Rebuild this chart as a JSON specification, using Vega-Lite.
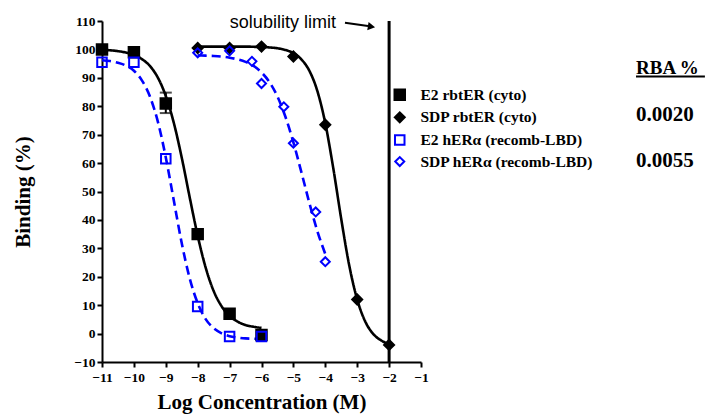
{
  "$schema": "https://vega.github.io/schema/vega-lite/v6.json",
  "width": 319,
  "height": 341,
  "autosize": "none",
  "padding": {"left": 102, "top": 21, "right": 285, "bottom": 56},
  "background": "white",
  "config": {
    "view": {"stroke": null},
    "font": "Liberation Serif",
    "axis": {
      "grid": false,
      "labelFlush": false,
      "labelOverlap": false,
      "domainColor": "black",
      "domainWidth": 2,
      "tickColor": "black",
      "tickWidth": 2,
      "tickSize": 5,
      "labelFont": "Liberation Serif",
      "labelFontWeight": "bold",
      "labelFontSize": 13.5,
      "labelColor": "black",
      "titleFont": "Liberation Serif",
      "titleFontWeight": "bold",
      "titleFontSize": 21,
      "titleColor": "black"
    },
    "legend": {
      "padding": 0,
      "labelFont": "Liberation Serif",
      "labelFontWeight": "bold",
      "labelFontSize": 15.5,
      "labelColor": "black",
      "labelLimit": 0,
      "symbolStrokeWidth": 2
    }
  },
  "datasets": {
    "points": [
      {"series": "E2 rbtER (cyto)", "x": -11, "y": 100},
      {"series": "E2 rbtER (cyto)", "x": -10, "y": 99},
      {"series": "E2 rbtER (cyto)", "x": -9, "y": 81},
      {"series": "E2 rbtER (cyto)", "x": -8, "y": 35},
      {"series": "E2 rbtER (cyto)", "x": -7, "y": 7},
      {"series": "E2 rbtER (cyto)", "x": -6, "y": -0.5},
      {"series": "SDP rbtER (cyto)", "x": -8, "y": 100.5},
      {"series": "SDP rbtER (cyto)", "x": -7, "y": 100.5},
      {"series": "SDP rbtER (cyto)", "x": -6, "y": 101},
      {"series": "SDP rbtER (cyto)", "x": -5, "y": 97.5},
      {"series": "SDP rbtER (cyto)", "x": -4, "y": 73.5},
      {"series": "SDP rbtER (cyto)", "x": -3, "y": 12},
      {"series": "SDP rbtER (cyto)", "x": -2, "y": -4},
      {"series": "E2 hERα (recomb-LBD)", "x": -11, "y": 95.5},
      {"series": "E2 hERα (recomb-LBD)", "x": -10, "y": 95.5},
      {"series": "E2 hERα (recomb-LBD)", "x": -9, "y": 61.5},
      {"series": "E2 hERα (recomb-LBD)", "x": -8, "y": 9.5},
      {"series": "E2 hERα (recomb-LBD)", "x": -7, "y": -1},
      {"series": "E2 hERα (recomb-LBD)", "x": -6, "y": -1},
      {"series": "SDP hERα (recomb-LBD)", "x": -8, "y": 98.8},
      {"series": "SDP hERα (recomb-LBD)", "x": -7, "y": 99.5},
      {"series": "SDP hERα (recomb-LBD)", "x": -6.3, "y": 95.8},
      {"series": "SDP hERα (recomb-LBD)", "x": -6, "y": 88},
      {"series": "SDP hERα (recomb-LBD)", "x": -5.3, "y": 79.8},
      {"series": "SDP hERα (recomb-LBD)", "x": -5, "y": 67},
      {"series": "SDP hERα (recomb-LBD)", "x": -4.3, "y": 42.8},
      {"series": "SDP hERα (recomb-LBD)", "x": -4, "y": 25.3}
    ],
    "curves": [
      {"curve": "E2 rbtER", "x": -11, "y": 99.8},
      {"curve": "E2 rbtER", "x": -10.75, "y": 99.7},
      {"curve": "E2 rbtER", "x": -10.5, "y": 99.4},
      {"curve": "E2 rbtER", "x": -10.25, "y": 98.9},
      {"curve": "E2 rbtER", "x": -10, "y": 98.1},
      {"curve": "E2 rbtER", "x": -9.75, "y": 96.6},
      {"curve": "E2 rbtER", "x": -9.5, "y": 94.2},
      {"curve": "E2 rbtER", "x": -9.25, "y": 90.1},
      {"curve": "E2 rbtER", "x": -9, "y": 83.6},
      {"curve": "E2 rbtER", "x": -8.75, "y": 74.2},
      {"curve": "E2 rbtER", "x": -8.5, "y": 61.9},
      {"curve": "E2 rbtER", "x": -8.25, "y": 47.9},
      {"curve": "E2 rbtER", "x": -8, "y": 34.4},
      {"curve": "E2 rbtER", "x": -7.75, "y": 23.2},
      {"curve": "E2 rbtER", "x": -7.5, "y": 15.0},
      {"curve": "E2 rbtER", "x": -7.25, "y": 9.6},
      {"curve": "E2 rbtER", "x": -7, "y": 6.2},
      {"curve": "E2 rbtER", "x": -6.75, "y": 4.2},
      {"curve": "E2 rbtER", "x": -6.5, "y": 3.0},
      {"curve": "E2 rbtER", "x": -6.25, "y": 2.4},
      {"curve": "E2 rbtER", "x": -6, "y": 2.0},
      {"curve": "SDP rbtER", "x": -8, "y": 101.0},
      {"curve": "SDP rbtER", "x": -7.5, "y": 101.0},
      {"curve": "SDP rbtER", "x": -7, "y": 101.0},
      {"curve": "SDP rbtER", "x": -6.5, "y": 101.0},
      {"curve": "SDP rbtER", "x": -6, "y": 100.8},
      {"curve": "SDP rbtER", "x": -5.75, "y": 100.7},
      {"curve": "SDP rbtER", "x": -5.5, "y": 100.4},
      {"curve": "SDP rbtER", "x": -5.25, "y": 99.8},
      {"curve": "SDP rbtER", "x": -5, "y": 98.7},
      {"curve": "SDP rbtER", "x": -4.75, "y": 96.5},
      {"curve": "SDP rbtER", "x": -4.5, "y": 92.5},
      {"curve": "SDP rbtER", "x": -4.25, "y": 85.4},
      {"curve": "SDP rbtER", "x": -4, "y": 74.0},
      {"curve": "SDP rbtER", "x": -3.75, "y": 58.2},
      {"curve": "SDP rbtER", "x": -3.5, "y": 40.3},
      {"curve": "SDP rbtER", "x": -3.25, "y": 24.0},
      {"curve": "SDP rbtER", "x": -3, "y": 12.0},
      {"curve": "SDP rbtER", "x": -2.75, "y": 4.3},
      {"curve": "SDP rbtER", "x": -2.5, "y": -0.1},
      {"curve": "SDP rbtER", "x": -2.25, "y": -2.4},
      {"curve": "SDP rbtER", "x": -2, "y": -3.7},
      {"curve": "E2 hERα", "x": -11, "y": 96.2},
      {"curve": "E2 hERα", "x": -10.75, "y": 95.9},
      {"curve": "E2 hERα", "x": -10.5, "y": 95.3},
      {"curve": "E2 hERα", "x": -10.25, "y": 94.3},
      {"curve": "E2 hERα", "x": -10, "y": 92.5},
      {"curve": "E2 hERα", "x": -9.75, "y": 89.1},
      {"curve": "E2 hERα", "x": -9.5, "y": 83.5},
      {"curve": "E2 hERα", "x": -9.25, "y": 74.6},
      {"curve": "E2 hERα", "x": -9, "y": 62.0},
      {"curve": "E2 hERα", "x": -8.75, "y": 46.9},
      {"curve": "E2 hERα", "x": -8.5, "y": 31.8},
      {"curve": "E2 hERα", "x": -8.25, "y": 19.4},
      {"curve": "E2 hERα", "x": -8, "y": 10.7},
      {"curve": "E2 hERα", "x": -7.75, "y": 5.1},
      {"curve": "E2 hERα", "x": -7.5, "y": 1.9},
      {"curve": "E2 hERα", "x": -7.25, "y": 0.1},
      {"curve": "E2 hERα", "x": -7, "y": -0.9},
      {"curve": "E2 hERα", "x": -6.75, "y": -1.4},
      {"curve": "E2 hERα", "x": -6.5, "y": -1.7},
      {"curve": "E2 hERα", "x": -6.25, "y": -1.8},
      {"curve": "E2 hERα", "x": -6, "y": -1.9},
      {"curve": "SDP hERα", "x": -8, "y": 97.9},
      {"curve": "SDP hERα", "x": -7.75, "y": 97.8},
      {"curve": "SDP hERα", "x": -7.5, "y": 97.7},
      {"curve": "SDP hERα", "x": -7.25, "y": 97.5},
      {"curve": "SDP hERα", "x": -7, "y": 97.1},
      {"curve": "SDP hERα", "x": -6.75, "y": 96.5},
      {"curve": "SDP hERα", "x": -6.5, "y": 95.6},
      {"curve": "SDP hERα", "x": -6.25, "y": 94.2},
      {"curve": "SDP hERα", "x": -6, "y": 91.9},
      {"curve": "SDP hERα", "x": -5.75, "y": 88.5},
      {"curve": "SDP hERα", "x": -5.5, "y": 83.4},
      {"curve": "SDP hERα", "x": -5.25, "y": 76.3},
      {"curve": "SDP hERα", "x": -5, "y": 67.3},
      {"curve": "SDP hERα", "x": -4.75, "y": 56.8},
      {"curve": "SDP hERα", "x": -4.5, "y": 46.0},
      {"curve": "SDP hERα", "x": -4.25, "y": 36.1},
      {"curve": "SDP hERα", "x": -4, "y": 28.0}
    ],
    "errs": [{"x": -9, "lo": 77.6, "hi": 84.8}],
    "limit": [{"x": -2}],
    "arrow": [{"x": -3.383, "y": 109.4, "x2": -2.66, "y2": 108.24}],
    "arrowhead": [{"x": -2.552, "y": 108.03}],
    "sol": [{"text": "solubility limit", "x": -5.33, "y": 109.3}],
    "rba": [{"text": "RBA %", "x": 5.74, "y": 93.46}],
    "rbavals": [
      {"text": "0.0020", "x": 5.74, "y": 76.9},
      {"text": "0.0055", "x": 5.74, "y": 60.7}
    ],
    "underline": [{"x": 5.74, "x2": 7.9, "y": 90.47}]
  },
  "layer": [
    {
      "data": {"name": "limit"},
      "mark": {"type": "rule", "strokeWidth": 3, "color": "black"},
      "encoding": {
        "x": {"field": "x", "type": "quantitative", "title": "Log Concentration (M)",
          "scale": {"domain": [-11, -1], "nice": false, "zero": false},
          "axis": {"values": [-11, -10, -9, -8, -7, -6, -5, -4, -3, -2, -1], "labelPadding": 3, "titlePadding": 8}}
      }
    },
    {
      "data": {"name": "curves"},
      "mark": {"type": "line", "strokeWidth": 2.6, "interpolate": "monotone"},
      "encoding": {
        "x": {"field": "x", "type": "quantitative", "title": "Log Concentration (M)",
          "scale": {"domain": [-11, -1], "nice": false, "zero": false},
          "axis": {"values": [-11, -10, -9, -8, -7, -6, -5, -4, -3, -2, -1], "labelPadding": 3, "titlePadding": 8}},
        "y": {"field": "y", "type": "quantitative", "title": "Binding (%)",
          "scale": {"domain": [-10, 110], "nice": false, "zero": false},
          "axis": {"values": [-10, 0, 10, 20, 30, 40, 50, 60, 70, 80, 90, 100, 110], "labelPadding": 2, "titlePadding": 40}},
        "detail": {"field": "curve"},
        "color": {"field": "curve", "type": "nominal", "legend": null,
          "scale": {"domain": ["E2 rbtER", "SDP rbtER", "E2 hERα", "SDP hERα"], "range": ["#000000", "#000000", "#0000ff", "#0000ff"]}},
        "strokeDash": {"field": "curve", "type": "nominal", "legend": null,
          "scale": {"domain": ["E2 rbtER", "SDP rbtER", "E2 hERα", "SDP hERα"], "range": [[1, 0], [1, 0], [9, 5], [9, 5]]}}
      }
    },
    {
      "data": {"name": "errs"},
      "mark": {"type": "errorbar", "ticks": {"size": 12, "thickness": 2, "color": "black"}, "thickness": 2, "color": "black"},
      "encoding": {
        "x": {"field": "x", "type": "quantitative", "title": "Log Concentration (M)",
          "scale": {"domain": [-11, -1], "nice": false, "zero": false},
          "axis": {"values": [-11, -10, -9, -8, -7, -6, -5, -4, -3, -2, -1], "labelPadding": 3, "titlePadding": 8}},
        "y": {"field": "lo", "type": "quantitative", "title": "Binding (%)",
          "scale": {"domain": [-10, 110], "nice": false, "zero": false},
          "axis": {"values": [-10, 0, 10, 20, 30, 40, 50, 60, 70, 80, 90, 100, 110], "labelPadding": 2, "titlePadding": 40}},
        "y2": {"field": "hi"}
      }
    },
    {
      "data": {"name": "points"},
      "mark": {"type": "point", "strokeWidth": 2, "opacity": 1, "fillOpacity": 1},
      "encoding": {
        "x": {"field": "x", "type": "quantitative", "title": "Log Concentration (M)",
          "scale": {"domain": [-11, -1], "nice": false, "zero": false},
          "axis": {"values": [-11, -10, -9, -8, -7, -6, -5, -4, -3, -2, -1], "labelPadding": 3, "titlePadding": 8}},
        "y": {"field": "y", "type": "quantitative", "title": "Binding (%)",
          "scale": {"domain": [-10, 110], "nice": false, "zero": false},
          "axis": {"values": [-10, 0, 10, 20, 30, 40, 50, 60, 70, 80, 90, 100, 110], "labelPadding": 2, "titlePadding": 40}},
        "shape": {"field": "series", "type": "nominal",
          "scale": {"domain": ["E2 rbtER (cyto)", "SDP rbtER (cyto)", "E2 hERα (recomb-LBD)", "SDP hERα (recomb-LBD)"], "range": ["square", "diamond", "square", "diamond"]},
          "legend": {"orient": "none", "legendX": 290, "legendY": 66, "title": null, "rowPadding": 3.6, "labelOffset": 13}},
        "fill": {"field": "series", "type": "nominal",
          "scale": {"domain": ["E2 rbtER (cyto)", "SDP rbtER (cyto)", "E2 hERα (recomb-LBD)", "SDP hERα (recomb-LBD)"], "range": ["#000000", "#000000", "transparent", "transparent"]},
          "legend": {"orient": "none", "legendX": 290, "legendY": 66, "title": null, "rowPadding": 3.6, "labelOffset": 13}},
        "stroke": {"field": "series", "type": "nominal",
          "scale": {"domain": ["E2 rbtER (cyto)", "SDP rbtER (cyto)", "E2 hERα (recomb-LBD)", "SDP hERα (recomb-LBD)"], "range": ["#000000", "#000000", "#0000ff", "#0000ff"]},
          "legend": {"orient": "none", "legendX": 290, "legendY": 66, "title": null, "rowPadding": 3.6, "labelOffset": 13}},
        "size": {"field": "series", "type": "nominal",
          "scale": {"domain": ["E2 rbtER (cyto)", "SDP rbtER (cyto)", "E2 hERα (recomb-LBD)", "SDP hERα (recomb-LBD)"], "range": [110, 81, 110, 81]},
          "legend": {"orient": "none", "legendX": 290, "legendY": 66, "title": null, "rowPadding": 3.6, "labelOffset": 13}}
      }
    },
    {
      "data": {"name": "arrow"},
      "mark": {"type": "rule", "strokeWidth": 2, "color": "black"},
      "encoding": {
        "x": {"field": "x", "type": "quantitative", "title": "Log Concentration (M)",
          "scale": {"domain": [-11, -1], "nice": false, "zero": false},
          "axis": {"values": [-11, -10, -9, -8, -7, -6, -5, -4, -3, -2, -1], "labelPadding": 3, "titlePadding": 8}},
        "y": {"field": "y", "type": "quantitative", "title": "Binding (%)",
          "scale": {"domain": [-10, 110], "nice": false, "zero": false},
          "axis": {"values": [-10, 0, 10, 20, 30, 40, 50, 60, 70, 80, 90, 100, 110], "labelPadding": 2, "titlePadding": 40}},
        "x2": {"field": "x2"},
        "y2": {"field": "y2"}
      }
    },
    {
      "data": {"name": "arrowhead"},
      "mark": {"type": "point", "shape": "triangle-right", "filled": true, "color": "black", "opacity": 1, "size": 70, "angle": 9},
      "encoding": {
        "x": {"field": "x", "type": "quantitative", "title": "Log Concentration (M)",
          "scale": {"domain": [-11, -1], "nice": false, "zero": false},
          "axis": {"values": [-11, -10, -9, -8, -7, -6, -5, -4, -3, -2, -1], "labelPadding": 3, "titlePadding": 8}},
        "y": {"field": "y", "type": "quantitative", "title": "Binding (%)",
          "scale": {"domain": [-10, 110], "nice": false, "zero": false},
          "axis": {"values": [-10, 0, 10, 20, 30, 40, 50, 60, 70, 80, 90, 100, 110], "labelPadding": 2, "titlePadding": 40}}
      }
    },
    {
      "data": {"name": "sol"},
      "mark": {"type": "text", "font": "Liberation Sans", "fontSize": 18, "align": "center", "baseline": "middle", "color": "black"},
      "encoding": {
        "x": {"field": "x", "type": "quantitative", "title": "Log Concentration (M)",
          "scale": {"domain": [-11, -1], "nice": false, "zero": false},
          "axis": {"values": [-11, -10, -9, -8, -7, -6, -5, -4, -3, -2, -1], "labelPadding": 3, "titlePadding": 8}},
        "y": {"field": "y", "type": "quantitative", "title": "Binding (%)",
          "scale": {"domain": [-10, 110], "nice": false, "zero": false},
          "axis": {"values": [-10, 0, 10, 20, 30, 40, 50, 60, 70, 80, 90, 100, 110], "labelPadding": 2, "titlePadding": 40}},
        "text": {"field": "text"}
      }
    },
    {
      "data": {"name": "rba"},
      "mark": {"type": "text", "font": "Liberation Serif", "fontWeight": "bold", "fontSize": 19, "align": "left", "baseline": "middle", "color": "black"},
      "encoding": {
        "x": {"field": "x", "type": "quantitative", "title": "Log Concentration (M)",
          "scale": {"domain": [-11, -1], "nice": false, "zero": false},
          "axis": {"values": [-11, -10, -9, -8, -7, -6, -5, -4, -3, -2, -1], "labelPadding": 3, "titlePadding": 8}},
        "y": {"field": "y", "type": "quantitative", "title": "Binding (%)",
          "scale": {"domain": [-10, 110], "nice": false, "zero": false},
          "axis": {"values": [-10, 0, 10, 20, 30, 40, 50, 60, 70, 80, 90, 100, 110], "labelPadding": 2, "titlePadding": 40}},
        "text": {"field": "text"}
      }
    },
    {
      "data": {"name": "rbavals"},
      "mark": {"type": "text", "font": "Liberation Serif", "fontWeight": "bold", "fontSize": 21, "align": "left", "baseline": "middle", "color": "black"},
      "encoding": {
        "x": {"field": "x", "type": "quantitative", "title": "Log Concentration (M)",
          "scale": {"domain": [-11, -1], "nice": false, "zero": false},
          "axis": {"values": [-11, -10, -9, -8, -7, -6, -5, -4, -3, -2, -1], "labelPadding": 3, "titlePadding": 8}},
        "y": {"field": "y", "type": "quantitative", "title": "Binding (%)",
          "scale": {"domain": [-10, 110], "nice": false, "zero": false},
          "axis": {"values": [-10, 0, 10, 20, 30, 40, 50, 60, 70, 80, 90, 100, 110], "labelPadding": 2, "titlePadding": 40}},
        "text": {"field": "text"}
      }
    },
    {
      "data": {"name": "underline"},
      "mark": {"type": "rule", "strokeWidth": 2, "color": "black"},
      "encoding": {
        "x": {"field": "x", "type": "quantitative", "title": "Log Concentration (M)",
          "scale": {"domain": [-11, -1], "nice": false, "zero": false},
          "axis": {"values": [-11, -10, -9, -8, -7, -6, -5, -4, -3, -2, -1], "labelPadding": 3, "titlePadding": 8}},
        "x2": {"field": "x2"},
        "y": {"field": "y", "type": "quantitative", "title": "Binding (%)",
          "scale": {"domain": [-10, 110], "nice": false, "zero": false},
          "axis": {"values": [-10, 0, 10, 20, 30, 40, 50, 60, 70, 80, 90, 100, 110], "labelPadding": 2, "titlePadding": 40}}
      }
    }
  ]
}
